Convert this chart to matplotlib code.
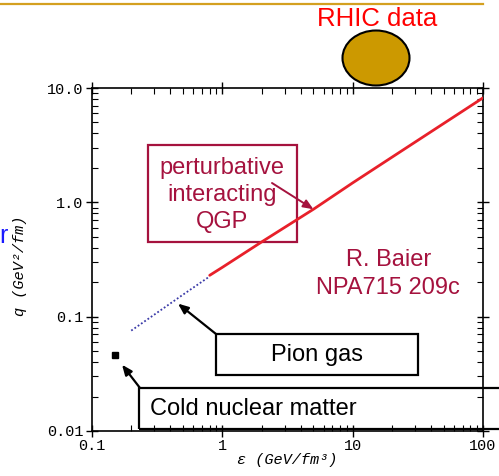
import matplotlib
matplotlib.use("Agg")
import matplotlib.pyplot as plt
from matplotlib.patches import Rectangle, Ellipse
from matplotlib.lines import Line2D

# Energy density (GeV/fm^3) and transport coefficient q-hat (GeV^2/fm)
qgp_eps = [0.8, 1.0, 2.0, 5.0, 10.0, 20.0, 50.0, 100.0]
qgp_qhat = [0.23, 0.27, 0.45, 0.87, 1.48, 2.48, 4.9, 8.2]

pion_eps = [0.2, 0.3, 0.5, 0.8]
pion_qhat = [0.0755, 0.104, 0.156, 0.225]

cold_eps = [0.15]
cold_qhat = [0.046]

x_ticks = [0.1, 1, 10, 100]
x_ticklabels = ["0.1", "1", "10", "100"]
y_ticks = [0.01, 0.1, 1.0, 10.0]
y_ticklabels = ["0.01", "0.1", "1.0", "10.0"]

W, H = 499, 476
fig = plt.figure(figsize=(W / 100, H / 100), dpi=100)


def fx(px):
    return px / W


def fy(py):
    return 1 - py / H


mono = "Liberation Mono"
sans = "Liberation Sans"
crimson = "#A5123E"
label_size = 17

ax = fig.add_axes([fx(92), fy(431), fx(483) - fx(92), fy(88) - fy(431)])
ax.set_xscale("log")
ax.set_yscale("log")
ax.set_xlim(0.1, 100)
ax.set_ylim(0.01, 10)

ax.plot(pion_eps, pion_qhat, linestyle=(0, (1, 1.2)), color="#3a3aa8",
        lw=1.3, zorder=3)
ax.plot(qgp_eps, qgp_qhat, color="#e8202a", lw=2.0, solid_capstyle="round",
        zorder=3)
ax.plot(cold_eps, cold_qhat, marker="s", color="black", ms=4.5, ls="none",
        zorder=3)

ax.set_xticks(x_ticks)
ax.set_xticklabels(x_ticklabels, fontfamily=mono, fontsize=11)
ax.set_yticks(y_ticks)
ax.set_yticklabels(y_ticklabels, fontfamily=mono, fontsize=11)
ax.tick_params(which="major", direction="inout", length=8, width=1.0,
               top=True, right=True, pad=2)
ax.tick_params(which="minor", direction="in", length=4, width=0.8,
               top=True, right=True)
for s in ax.spines.values():
    s.set_linewidth(1.2)

ax.set_xlabel("\u03b5 (GeV/fm\u00b3)", fontfamily=mono, fontstyle="italic",
              fontsize=11, labelpad=0)
fig.text(fx(20), fy(266), "q (GeV\u00b2/fm)", rotation=90, ha="center",
         va="center", fontfamily=mono, fontstyle="italic", fontsize=11)

# slide header rule
fig.add_artist(Line2D([0, fx(483)], [fy(4), fy(4)], color="#d4a020", lw=1.6))

# RHIC data marker
fig.text(fx(377), fy(19), "RHIC data", color="#ff0000", fontfamily=sans,
         fontsize=18.5, ha="center", va="center")
fig.add_artist(Ellipse((fx(376), fy(58)), fx(67), 55 / H, facecolor="#cc9900",
                       edgecolor="black", lw=1.5))

# stray slide text at the left edge
fig.text(fx(-1), fy(236), "r", color="#1a1aff", fontfamily=sans,
         fontsize=18, ha="left", va="center")


def frame(x0, y0, x1, y1, color):
    ax.add_patch(Rectangle((fx(x0), fy(y1)), fx(x1) - fx(x0), fy(y0) - fy(y1),
                           transform=fig.transFigure, facecolor="none",
                           edgecolor=color, lw=1.6, clip_on=False, zorder=2))


arrow = "-|>,head_length=0.6,head_width=0.25"

# perturbative QGP box
frame(148, 145, 297, 242, crimson)
fig.text(fx(222), fy(195), "perturbative\ninteracting\nQGP", color=crimson,
         fontfamily=sans, fontsize=17, ha="center", va="center",
         linespacing=1.27)
ax.annotate("", xy=(5.0, 0.87), xycoords="data",
            xytext=(fx(272), fy(183)), textcoords="figure fraction",
            arrowprops=dict(arrowstyle=arrow, color=crimson, lw=1.4,
                            shrinkA=0, shrinkB=0))

fig.text(fx(389), fy(260), "R. Baier", color=crimson, fontfamily=sans,
         fontsize=label_size, ha="center", va="center")
fig.text(fx(388), fy(288), "NPA715 209c", color=crimson, fontfamily=sans,
         fontsize=label_size, ha="center", va="center")

# Pion gas box
frame(216, 334, 418, 375, "black")
fig.text(fx(317), fy(355), "Pion gas", color="black", fontfamily=sans,
         fontsize=label_size, ha="center", va="center")
ax.annotate("", xy=(0.457, 0.13), xycoords="data",
            xytext=(fx(216), fy(334)), textcoords="figure fraction",
            arrowprops=dict(arrowstyle=arrow, color="black", lw=1.6,
                            shrinkA=0, shrinkB=0))

# Cold nuclear matter box
frame(139, 388, 520, 429, "black")
fig.text(fx(150), fy(409), "Cold nuclear matter", color="black",
         fontfamily=sans, fontsize=label_size, ha="left", va="center")
ax.annotate("", xy=(0.17, 0.038), xycoords="data",
            xytext=(fx(140), fy(388)), textcoords="figure fraction",
            arrowprops=dict(arrowstyle=arrow, color="black", lw=1.6,
                            shrinkA=0, shrinkB=0))

fig.savefig("out.png", dpi=100)
